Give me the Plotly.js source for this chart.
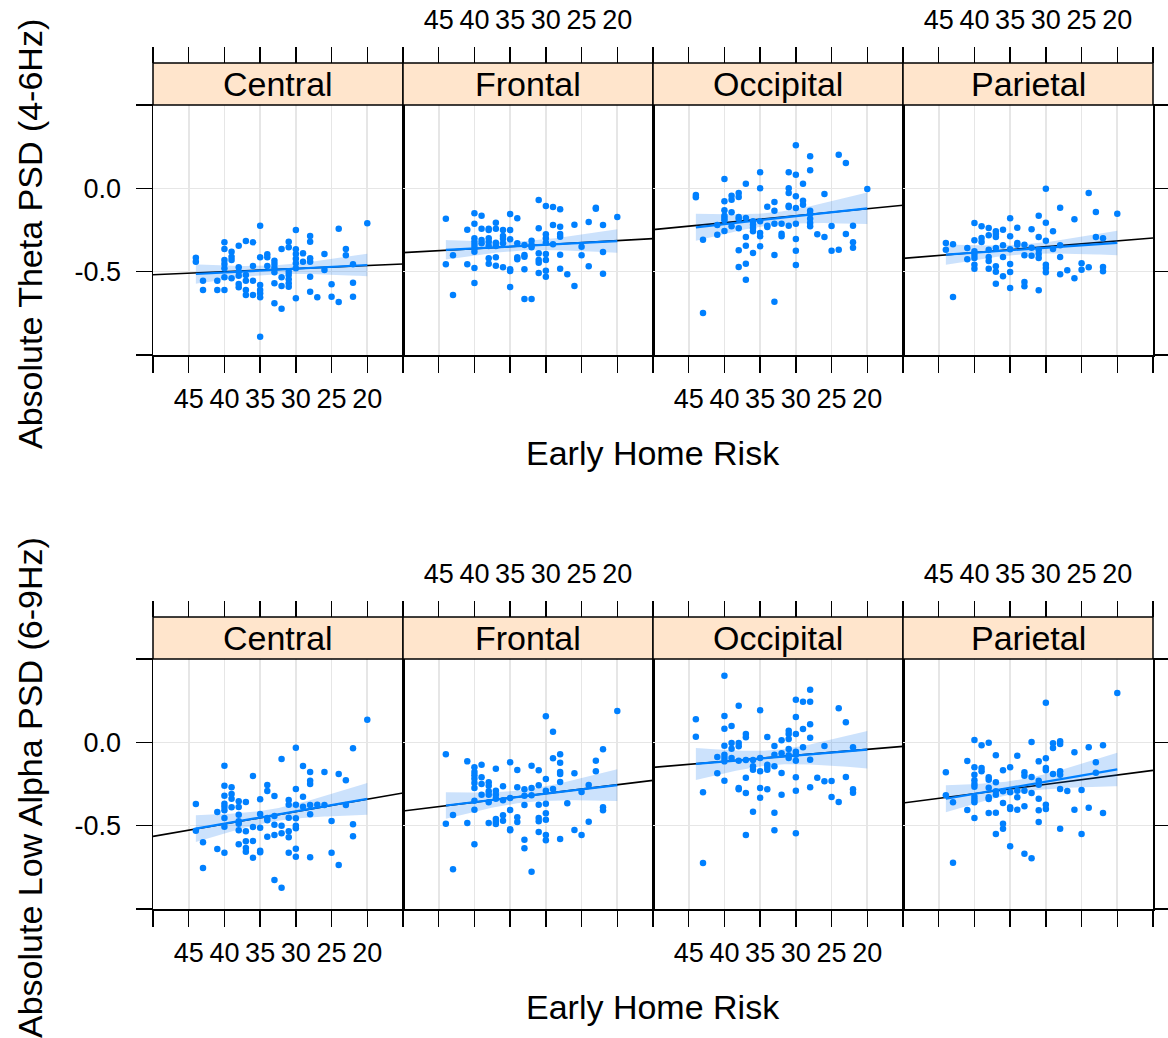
<!DOCTYPE html>
<html>
<head>
<meta charset="utf-8">
<script src="https://cdn.plot.ly/plotly-3.0.1.min.js"></script>
<style>html,body{margin:0;padding:0;background:#fff;}</style>
</head>
<body>
<div id="chart" style="width:1168px;height:1038px;"></div>
<script>
// ---------------- data ----------------
const regions = ['Central', 'Frontal', 'Occipital', 'Parietal'];
const measures = ['Absolute Theta PSD (4-6Hz)', 'Absolute Low Alpha PSD (6-9Hz)'];
const xTitle = 'Early Home Risk';
const xTickVals = [50, 45, 40, 35, 30, 25, 20, 15];
const xTickText = ['', '45', '40', '35', '30', '25', '20', ''];
const yTickVals = [-1, -0.5, 0, 0.5];
const yTickText = ['', '-0.5', '0.0', ''];
const xRange = [50, 15];
const yRange = [-1, 0.5];

// Theta (4-6Hz)
const thetaCentralX = [44,44, 43,43, 41,41, 40,40,40,40,40,40,40, 39,39,39,39, 38,38,38,38,38,38, 37,37,37,37,37, 36,36,36,36, 35,35,35,35,35,35,35, 34,34,34, 33,33,33,33,33,33, 32,32,32,32, 31,31,31,31,31,31,31, 30,30,30,30,30,30,30, 29,29, 28,28,28,28,28,28, 27, 26,26, 25,25, 24,24, 23,23, 22,22,22, 20];
const thetaCentralY = [-0.416,-0.44, -0.554,-0.61, -0.554,-0.61, -0.324,-0.364,-0.43,-0.454,-0.48,-0.534,-0.61, -0.38,-0.41,-0.43,-0.54, -0.344,-0.474,-0.5,-0.524,-0.574,-0.594, -0.316,-0.52,-0.554,-0.61,-0.64, -0.324,-0.466,-0.554,-0.64, -0.224,-0.414,-0.58,-0.61,-0.63,-0.654,-0.89, -0.396,-0.414,-0.466, -0.434,-0.454,-0.476,-0.504,-0.57,-0.69, -0.364,-0.534,-0.586,-0.722, -0.32,-0.354,-0.5,-0.52,-0.546,-0.57,-0.59, -0.25,-0.366,-0.394,-0.422,-0.45,-0.48,-0.66, -0.39,-0.44, -0.286,-0.32,-0.42,-0.44,-0.53,-0.62, -0.654, -0.394,-0.49, -0.576,-0.65, -0.242,-0.682, -0.364,-0.402, -0.456,-0.566,-0.65, -0.21];

const thetaFrontalX = [44,44, 43,43, 41,41, 40,40,40,40,40,40,40,40,40, 39,39,39,39, 38,38,38,38,38,38,38, 37,37,37,37,37,37, 36,36,36,36,36, 35,35,35,35,35,35, 34,34,34,34, 33,33,33,33,33, 32,32,32,32, 31,31,31,31,31,31, 30,30,30,30,30,30,30,30, 29,29,29, 28,28,28,28,28,28, 27, 26,26, 25,25, 24,24, 23,23, 22,22,22, 20];
const thetaFrontalY = [-0.182,-0.456, -0.402,-0.64, -0.248,-0.456, -0.15,-0.212,-0.3,-0.32,-0.34,-0.36,-0.38,-0.478,-0.568, -0.164,-0.242,-0.31,-0.33, -0.242,-0.25,-0.3,-0.32,-0.346,-0.42,-0.452, -0.206,-0.242,-0.326,-0.346,-0.414,-0.464, -0.25,-0.286,-0.302,-0.33,-0.474, -0.154,-0.25,-0.306,-0.486,-0.496,-0.592, -0.18,-0.33,-0.414,-0.426, -0.34,-0.4,-0.41,-0.486,-0.664, -0.314,-0.34,-0.354,-0.664, -0.07,-0.24,-0.39,-0.43,-0.446,-0.508, -0.106,-0.276,-0.3,-0.326,-0.394,-0.43,-0.494,-0.53, -0.112,-0.22,-0.336, -0.126,-0.23,-0.274,-0.29,-0.398,-0.482, -0.516, -0.218,-0.586, -0.35,-0.402, -0.202,-0.468, -0.116,-0.122, -0.22,-0.382,-0.512, -0.172];

const thetaOccipitalX = [44,44, 43,43, 41,41, 40,40,40,40,40,40,40, 39,39,39,39, 38,38,38,38,38,38,38, 37,37,37,37,37,37, 36,36,36,36,36, 35,35,35,35,35,35, 34,34,34, 33,33,33,33,33, 32,32,32, 31,31,31,31,31,31, 30,30,30,30,30,30,30,30, 29,29,29, 28,28,28,28,28,28,28, 27, 26,26, 25,25, 24,24, 23,23, 22,22,22, 20];
const thetaOccipitalY = [-0.04,-0.054, -0.308,-0.748, -0.22,-0.278, 0.056,-0.078,-0.132,-0.164,-0.178,-0.192,-0.256, -0.044,-0.068,-0.144,-0.228, -0.028,-0.052,-0.172,-0.184,-0.24,-0.372,-0.472, 0.028,-0.178,-0.292,-0.344,-0.452,-0.548, -0.198,-0.218,-0.238,-0.258,-0.388, 0.096,0.0,-0.198,-0.268,-0.288,-0.348, -0.11,-0.224,-0.232, -0.082,-0.134,-0.212,-0.4,-0.68, -0.212,-0.272,-0.288, 0.096,0.0,-0.028,-0.104,-0.112,-0.224, 0.258,0.082,-0.048,-0.118,-0.212,-0.304,-0.374,-0.46, 0.028,-0.074,-0.098, 0.192,0.108,-0.134,-0.154,-0.182,-0.208,-0.228, -0.276, -0.034,-0.292, -0.226,-0.374, 0.202,-0.368, 0.152,-0.274, -0.224,-0.324,-0.356, -0.004];

const thetaParietalX = [44,44, 43,43, 41,41, 40,40,40,40,40,40,40, 39,39,39, 38,38,38,38,38,38, 37,37,37,37,37,37,37, 36,36,36,36, 35,35,35,35,35,35, 34,34,34, 33,33,33,33, 32,32,32, 31,31,31,31,31,31, 30,30,30,30,30,30, 29,29, 28,28,28,28, 27, 26,26, 25,25, 24,24, 23,23, 22,22,22, 20];
const thetaParietalY = [-0.328,-0.368, -0.336,-0.652, -0.358,-0.426, -0.208,-0.312,-0.378,-0.398,-0.418,-0.458,-0.482, -0.228,-0.298,-0.322, -0.238,-0.282,-0.368,-0.412,-0.436,-0.482, -0.258,-0.274,-0.292,-0.358,-0.468,-0.5,-0.572, -0.248,-0.342,-0.412,-0.528, -0.18,-0.288,-0.366,-0.454,-0.502,-0.598, -0.236,-0.328,-0.338, -0.338,-0.402,-0.562,-0.588, -0.246,-0.356,-0.404, -0.164,-0.292,-0.368,-0.394,-0.418,-0.612, -0.002,-0.206,-0.314,-0.458,-0.478,-0.504, -0.258,-0.364, -0.116,-0.342,-0.412,-0.516, -0.492, -0.186,-0.54, -0.45,-0.488, -0.028,-0.474, -0.142,-0.292, -0.3,-0.472,-0.498, -0.152];

// Low Alpha (6-9Hz)
const alphaCentralX = [44,44, 43,43, 41,41, 40,40,40,40,40,40,40,40,40, 39,39,39,39, 38,38,38,38,38,38,38, 37,37,37,37,37, 36,36,36,36, 35,35,35,35,35, 34,34,34,34,34, 33,33,33,33,33, 32,32,32,32, 31,31,31,31,31,31, 30,30,30,30,30,30,30,30, 29,29,29, 28,28,28,28,28,28, 27, 26,26, 25,25, 24,24, 23,23, 22,22,22, 20];
const alphaCentralY = [-0.37,-0.53, -0.6,-0.754, -0.418,-0.64, -0.14,-0.26,-0.32,-0.368,-0.386,-0.408,-0.454,-0.506,-0.662, -0.27,-0.31,-0.338,-0.39, -0.354,-0.388,-0.434,-0.474,-0.488,-0.528,-0.612, -0.358,-0.534,-0.594,-0.634,-0.656, -0.202,-0.508,-0.592,-0.692, -0.342,-0.43,-0.512,-0.65,-0.66, -0.256,-0.292,-0.454,-0.468,-0.566, -0.322,-0.442,-0.494,-0.556,-0.826, -0.1,-0.5,-0.546,-0.872, -0.346,-0.374,-0.452,-0.534,-0.57,-0.662, -0.032,-0.28,-0.374,-0.456,-0.5,-0.516,-0.638,-0.686, -0.142,-0.326,-0.386, -0.178,-0.23,-0.25,-0.376,-0.432,-0.69, -0.374, -0.178,-0.376, -0.472,-0.662, -0.19,-0.736, -0.228,-0.376, -0.036,-0.492,-0.564, 0.136];

const alphaFrontalX = [44,44, 43,43, 41,41, 40,40,40,40,40,40,40,40,40, 39,39,39,39, 38,38,38,38,38,38, 37,37,37,37,37,37,37, 36,36,36,36, 35,35,35,35,35, 34,34,34,34, 33,33,33,33,33, 32,32,32,32, 31,31,31,31,31,31, 30,30,30,30,30,30,30,30, 29,29,29, 28,28,28,28,28,28, 27, 26,26, 25,25, 24,24, 23,23, 22,22,22, 20];
const alphaFrontalY = [-0.072,-0.488, -0.436,-0.762, -0.114,-0.484, -0.15,-0.178,-0.198,-0.218,-0.244,-0.274,-0.35,-0.404,-0.612, -0.134,-0.21,-0.25,-0.314, -0.24,-0.26,-0.294,-0.314,-0.36,-0.484, -0.158,-0.29,-0.314,-0.338,-0.46,-0.478,-0.49, -0.264,-0.348,-0.438,-0.47, -0.12,-0.334,-0.406,-0.522,-0.528, -0.166,-0.27,-0.45,-0.478, -0.282,-0.32,-0.376,-0.584,-0.636, -0.14,-0.274,-0.318,-0.776, -0.168,-0.258,-0.374,-0.454,-0.474,-0.538, 0.156,-0.22,-0.29,-0.368,-0.426,-0.464,-0.556,-0.588, 0.064,-0.096,-0.28, -0.072,-0.122,-0.178,-0.19,-0.238,-0.58, -0.366, -0.186,-0.526, -0.298,-0.556, -0.256,-0.476, -0.11,-0.174, -0.042,-0.39,-0.408, 0.188];

const alphaOccipitalX = [44,44, 43,43, 41,41, 40,40,40,40,40,40,40,40, 39,39,39,39, 38,38,38,38,38,38, 37,37,37,37,37,37, 36,36,36,36, 35,35,35,35,35, 34,34,34,34,34, 33,33,33,33,33, 32,32,32,32, 31,31,31,31,31,31, 30,30,30,30,30,30,30,30,30, 29,29,29, 28,28,28,28,28,28, 27, 26,26, 25,25, 24,24, 23,23, 22,22,22, 20];
const alphaOccipitalY = [0.138,0.034, -0.3,-0.724, -0.088,-0.186, 0.4,0.158,0.082,-0.02,-0.074,-0.094,-0.114,-0.23, 0.098,-0.004,-0.038,-0.094, 0.22,-0.004,-0.024,-0.11,-0.274,-0.282, 0.05,0.03,-0.106,-0.212,-0.304,-0.556, -0.106,-0.144,-0.164,-0.416, 0.192,-0.094,-0.174,-0.274,-0.332, 0.032,-0.134,-0.148,-0.164,-0.282, -0.022,-0.074,-0.144,-0.422,-0.528, 0.012,-0.066,-0.184,-0.314, 0.07,0.05,0.02,-0.04,-0.078,-0.094, 0.256,0.152,0.05,-0.056,-0.074,-0.11,-0.21,-0.29,-0.546, 0.244,0.08,-0.03, 0.316,0.244,0.108,0.028,-0.104,-0.27, -0.212, -0.022,-0.234, -0.232,-0.328, 0.204,-0.358, 0.12,-0.208, -0.03,-0.282,-0.302, 0.55];

const alphaParietalX = [44,44, 43,43, 41,41, 40,40,40,40,40,40,40,40,40,40, 39,39,39, 38,38,38,38,38,38,38, 37,37,37,37,37,37, 36,36,36,36,36, 35,35,35,35,35, 34,34,34,34, 33,33,33,33,33, 32,32,32,32, 31,31,31,31,31,31, 30,30,30,30,30,30, 29,29,29, 28,28,28,28,28,28, 27, 26,26, 25,25, 24,24, 23,23, 22,22, 20];
const alphaParietalY = [-0.18,-0.318, -0.36,-0.722, -0.112,-0.406, 0.014,-0.15,-0.194,-0.228,-0.25,-0.266,-0.326,-0.344,-0.36,-0.454, -0.018,-0.154,-0.174, -0.002,-0.21,-0.224,-0.272,-0.33,-0.34,-0.424, -0.078,-0.24,-0.294,-0.314,-0.422,-0.55, -0.168,-0.294,-0.364,-0.488,-0.518, -0.15,-0.3,-0.39,-0.4,-0.624, -0.08,-0.29,-0.33,-0.404, -0.18,-0.2,-0.29,-0.384,-0.668, 0.002,-0.208,-0.304,-0.696, -0.114,-0.23,-0.254,-0.338,-0.408,-0.478, 0.238,-0.096,-0.154,-0.168,-0.374,-0.4, -0.006,-0.034,-0.19, 0.006,-0.01,-0.174,-0.194,-0.28,-0.518, -0.292, -0.06,-0.404, -0.286,-0.55, -0.03,-0.392, -0.12,-0.182, -0.018,-0.424, 0.296];

// full-sample fixed-effect line (intercept, slope) per panel: rows = measures, cols = regions
const fixedIntercept = [[-0.4266, -0.266, -0.0394, -0.2457], [-0.1926, -0.1491, 0.03, -0.084]];
const fixedSlope = [[-0.00183, -0.0024, -0.00417, -0.00349], [-0.00743, -0.00526, -0.0036, -0.0056]];

const panelData = [
  [[thetaCentralX, thetaCentralY], [thetaFrontalX, thetaFrontalY], [thetaOccipitalX, thetaOccipitalY], [thetaParietalX, thetaParietalY]],
  [[alphaCentralX, alphaCentralY], [alphaFrontalX, alphaFrontalY], [alphaOccipitalX, alphaOccipitalY], [alphaParietalX, alphaParietalY]]
];

// ---------------- layout geometry (pixels) ----------------
const W = 1168, H = 1038;
const colEdges = [153, 403, 653, 903, 1153];
const panelTop = [105, 659];
const panelH = 250;
const stripH = 42;
const FONT = 'Liberation Sans, Arial, Helvetica, sans-serif';
const BLUE = '#0080FF';
const px2fx = v => v / W;
const px2fy = v => 1 - v / H;

function ols(x, y) {
  const n = x.length;
  let mx = 0, my = 0;
  for (let i = 0; i < n; i++) { mx += x[i]; my += y[i]; }
  mx /= n; my /= n;
  let sxx = 0, sxy = 0;
  for (let i = 0; i < n; i++) { sxx += (x[i]-mx)*(x[i]-mx); sxy += (x[i]-mx)*(y[i]-my); }
  const b = sxy / sxx, a = my - b * mx;
  let sse = 0;
  for (let i = 0; i < n; i++) { const e = y[i] - (a + b * x[i]); sse += e * e; }
  const s = Math.sqrt(sse / (n - 2));
  return {a, b, s, n, mx, sxx};
}

const traces = [];
const layout = {
  width: W, height: H,
  margin: {l: 0, r: 0, t: 0, b: 0},
  paper_bgcolor: '#ffffff', plot_bgcolor: 'rgba(0,0,0,0)',
  showlegend: false,
  font: {family: FONT, color: '#000000'},
  shapes: [], annotations: []
};

for (let r = 0; r < 2; r++) {
  for (let c = 0; c < 4; c++) {
    const k = r * 4 + c;
    const id = k === 0 ? '' : String(k + 1);
    const oid = String(k + 9);
    const xa = 'x' + id, ya = 'y' + id, xo = 'x' + oid;
    const [px, py] = panelData[r][c];
    if (px.length !== py.length) console.warn('length mismatch', r, c, px.length, py.length);

    // fixed-effect line across the full panel width (drawn first, underneath)
    const bx = xRange.slice();
    const by = bx.map(v => fixedIntercept[r][c] + fixedSlope[r][c] * v);
    traces.push({
      type: 'scatter', mode: 'lines', xaxis: xa, yaxis: ya,
      x: bx, y: by, line: {color: '#000000', width: 1.6}, hoverinfo: 'skip'
    });

    // linear fit and 95% confidence band
    const f = ols(px, py);
    const tq = 1.99;
    const xmin = Math.min(...px), xmax = Math.max(...px);
    const gx = [], up = [], lo = [], fy = [];
    const N = 60;
    for (let i = 0; i <= N; i++) {
      const xv = xmin + (xmax - xmin) * i / N;
      const yv = f.a + f.b * xv;
      const se = f.s * Math.sqrt(1 / f.n + (xv - f.mx) * (xv - f.mx) / f.sxx);
      gx.push(xv); fy.push(yv); up.push(yv + tq * se); lo.push(yv - tq * se);
    }
    traces.push({
      type: 'scatter', mode: 'lines', xaxis: xa, yaxis: ya,
      x: gx.concat(gx.slice().reverse()), y: up.concat(lo.slice().reverse()),
      fill: 'toself', fillcolor: 'rgba(0,110,240,0.2)', line: {width: 0}, hoverinfo: 'skip'
    });
    traces.push({
      type: 'scatter', mode: 'markers', xaxis: xa, yaxis: ya,
      x: px, y: py, marker: {color: BLUE, size: 6.5, line: {width: 0}}
    });
    traces.push({
      type: 'scatter', mode: 'lines', xaxis: xa, yaxis: ya,
      x: gx, y: fy, line: {color: BLUE, width: 2.2}, hoverinfo: 'skip'
    });
    // empty trace so the top-tick overlay axis gets a subplot
    traces.push({
      type: 'scatter', mode: 'markers', xaxis: xo, yaxis: ya,
      x: [], y: [], hoverinfo: 'skip'
    });

    const xDom = [px2fx(colEdges[c]), px2fx(colEdges[c + 1])];
    const yDom = [px2fy(panelTop[r] + panelH), px2fy(panelTop[r])];

    layout['xaxis' + id] = {
      domain: xDom, anchor: ya, range: xRange.slice(), autorange: false,
      tickmode: 'array', tickvals: xTickVals, ticktext: xTickText,
      showticklabels: (c === 0 || c === 2),
      ticks: 'outside', ticklen: 16, tickwidth: 1.5, tickcolor: '#000',
      ticklabelstandoff: 3,
      tickfont: {family: FONT, size: 27, color: '#000'},
      showline: true, linecolor: '#000', linewidth: 1.5, mirror: true,
      showgrid: true, gridcolor: '#E6E6E6', gridwidth: 1.6,
      zeroline: false, fixedrange: true
    };
    layout['xaxis' + oid] = {
      overlaying: xa, anchor: 'free', position: px2fy(panelTop[r] - stripH),
      side: 'top', range: xRange.slice(), autorange: false,
      tickmode: 'array', tickvals: xTickVals, ticktext: xTickText,
      showticklabels: (c === 1 || c === 3),
      ticks: 'outside', ticklen: 16, tickwidth: 1.5, tickcolor: '#000',
      ticklabelstandoff: 7,
      tickfont: {family: FONT, size: 27, color: '#000'},
      showline: false, showgrid: false, zeroline: false, fixedrange: true
    };
    layout['yaxis' + id] = {
      domain: yDom, anchor: xa, range: yRange.slice(), autorange: false,
      side: c === 3 ? 'right' : 'left',
      tickmode: 'array', tickvals: yTickVals, ticktext: yTickText,
      showticklabels: c === 0,
      ticks: (c === 0 || c === 3) ? 'outside' : '', ticklen: 16, tickwidth: 1.5, tickcolor: '#000',
      ticklabelstandoff: 9,
      tickfont: {family: FONT, size: 27, color: '#000'},
      showline: true, linecolor: '#000', linewidth: 1.5, mirror: true,
      showgrid: true, gridcolor: '#E6E6E6', gridwidth: 1.6,
      zeroline: false, fixedrange: true
    };

    // strip
    layout.shapes.push({
      type: 'rect', xref: 'paper', yref: 'paper', layer: 'above',
      x0: xDom[0], x1: xDom[1], y0: px2fy(panelTop[r]), y1: px2fy(panelTop[r] - stripH),
      fillcolor: '#FFE5CC', line: {color: '#000', width: 1.5}
    });
    layout.annotations.push({
      xref: 'paper', yref: 'paper', x: (xDom[0] + xDom[1]) / 2, y: px2fy(panelTop[r] - stripH / 2),
      xanchor: 'center', yanchor: 'middle', showarrow: false,
      text: regions[c], font: {family: FONT, size: 34, color: '#000'}
    });
  }
  // axis titles for this row
  layout.annotations.push({
    xref: 'paper', yref: 'paper', x: px2fx((colEdges[0] + colEdges[4]) / 2), y: px2fy(panelTop[r] + 348),
    xanchor: 'center', yanchor: 'middle', showarrow: false,
    text: xTitle, font: {family: FONT, size: 34, color: '#000'}
  });
  layout.annotations.push({
    xref: 'paper', yref: 'paper', x: px2fx(30), y: px2fy(panelTop[r] + 129),
    xanchor: 'center', yanchor: 'middle', showarrow: false, textangle: -90,
    text: measures[r], font: {family: FONT, size: 34, color: '#000'}
  });
}

Plotly.newPlot('chart', traces, layout, {staticPlot: true, displayModeBar: false});
</script>
</body>
</html>
